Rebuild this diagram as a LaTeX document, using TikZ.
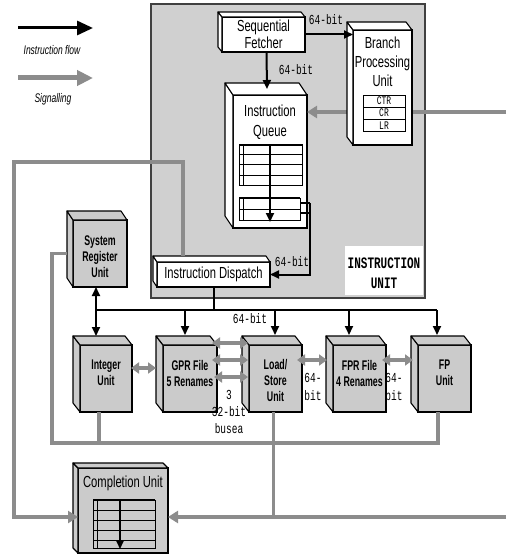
\documentclass[tikz,border=0pt]{standalone}
\usepackage{fontspec}
\setsansfont{Liberation Sans}[FakeStretch=0.8]
\setmonofont{Liberation Mono}
\newfontfamily\bigfont{Liberation Sans}[FakeStretch=0.7]
\newfontfamily\unitfont{Liberation Sans}[FakeStretch=0.63]
\newfontfamily\legfont{Liberation Sans}[FakeStretch=0.68]
\usepackage{graphicx}
\usetikzlibrary{arrows.meta,calc}
\definecolor{iubg}{HTML}{D0D0D0}
\definecolor{boxg}{HTML}{CBCBCB}
\definecolor{sig}{HTML}{8C8C8C}
\newcommand{\tallm}[1]{\scalebox{1}[1.45]{#1}}
% name, cx, cy, w, h, dx, dy, fill
\newcommand{\threed}[8]{%
  \node[face, fill=#8, minimum width=#4pt, minimum height=#5pt] (#1) at (#2,#3) {};
  \filldraw[edge, fill=#8] (#1.north west) -- ++(#6,#7) -- ($(#1.south west)+(#6,#7)$) -- (#1.south west) -- cycle;
  \filldraw[edge, fill=#8] (#1.north west) -- ++(#6,#7) -- ($(#1.north east)+(#6,#7)$) -- (#1.north east) -- cycle;
}
\begin{document}
\begin{tikzpicture}[x=1pt,y=-1pt,
  face/.style={draw=black, line width=1.1pt, inner sep=0pt, outer sep=0pt},
  edge/.style={draw=black, line width=1.1pt, line join=round},
  big/.style={font=\bigfont\fontsize{16}{18}\selectfont, align=center, inner sep=0pt},
  unitt/.style={font=\unitfont\bfseries\fontsize{14}{16}\selectfont, align=center, inner sep=0pt},
  legt/.style={font=\legfont\itshape\fontsize{12.5}{13}\selectfont, inner sep=0pt},
  mono/.style={font=\ttfamily\fontsize{9.5}{10}\selectfont, inner sep=0pt},
  reg/.style={draw=black, line width=0.8pt, minimum width=42pt, minimum height=12pt, inner sep=0pt, outer sep=0pt, font=\ttfamily\fontsize{8}{8}\selectfont},
  flow/.style={draw=black, line width=2pt, -{Triangle[length=9pt,width=8pt]}},
  blk/.style={draw=black, line width=2pt},
  sigline/.style={draw=sig, line width=3.5pt},
  sigarrow/.style={draw=sig, line width=3.5pt, -{Triangle[length=10pt,width=12pt]}},
  sigdbl/.style={draw=sig, line width=3.5pt, {Triangle[length=8pt,width=11pt]}-{Triangle[length=8pt,width=11pt]}},
  tbl/.style={draw=black, line width=1pt}
]
\useasboundingbox (0,0) rectangle (506,556);
\fill[white] (0,0) rectangle (506,556);

% legend
\coordinate (lf1) at (18,28); \coordinate (lf2) at (93,28);
\draw[line width=3pt, -{Triangle[length=16pt,width=14pt]}] (lf1) -- (lf2);
\node[legt] (lft) at (52,50) {Instruction flow};
\coordinate (ls1) at (18,78); \coordinate (ls2) at (93,78);
\draw[draw=sig, line width=5pt, -{Triangle[length=16pt,width=15pt]}] (ls1) -- (ls2);
\node[legt] (lst) at (53,99) {Signalling};

% instruction unit
\node[draw=black!75, line width=1.2pt, fill=iubg, minimum width=274pt, minimum height=294pt, inner sep=0pt, outer sep=0pt] (iu) at (288,151) {};
\node[fill=white, minimum width=78pt, minimum height=49pt, inner sep=0pt, outer sep=0pt] (iulbl) at (384,270.5) {};
\node[font=\ttfamily\bfseries\fontsize{11}{20}\selectfont, align=center, inner sep=0pt] (iut) at (384,273) {\tallm{INSTRUCTION}\\\tallm{UNIT}};

% sequential fetcher
\threed{sf}{263.5}{34.5}{83}{35}{-4}{-5}{white}
\node[big, font=\bigfont\fontsize{16}{17}\selectfont] (sft) at (sf) {Sequential\\Fetcher};

% instruction queue
\threed{iq}{270}{161.5}{74}{133}{-8}{-12}{white}
\node[big, font=\bigfont\fontsize{16}{20}\selectfont] (iqt) at (270,122) {Instruction\\Queue};
\draw[tbl] (239,145) rectangle (302,185);
\foreach \yy in {155,165,175} \draw[tbl] (239,\yy) -- (302,\yy);
\draw[tbl] (243,145) -- (243,185);
\draw[tbl, line width=1.6pt] (239,145) -- (302,145);
\draw[tbl] (239,198) rectangle (300,220);
\draw[tbl] (239,209) -- (300,209);
\draw[tbl] (243,198) -- (243,220);
\draw[tbl, line width=1.6pt] (239,198) -- (300,198);
\coordinate (qa) at (270,145); \coordinate (qb) at (270,222);
\draw[flow] (qa) -- (qb);

% signalling into queue
\coordinate (rin) at (506,112);
\draw[sigarrow] (rin) -- (iq.east |- rin);

% branch processing unit
\threed{bpu}{382.5}{87.5}{59}{115}{-6}{-8}{white}
\node[big, font=\bigfont\fontsize{16}{19}\selectfont] (bput) at (382.5,62) {Branch\\Processing\\Unit};
\node[reg] (ctr) at (384,101) {\tallm{CTR}};
\node[reg] (cr) at (384,113) {\tallm{CR}};
\node[reg] (lr) at (384,125.5) {\tallm{LR}};

% fetcher arrows
\draw[flow] (sf.east) -- (bpu.west |- sf.east);
\node[mono] (l64a) at (326,20) {\tallm{64-bit}};
\draw[flow] ($(sf.south)+(3,0)$) -- ($(iq.north)+(-3,-6)$);
\node[mono] (l64b) at (296,70) {\tallm{64-bit}};

% instruction dispatch
\threed{disp}{213.5}{274.5}{113}{25}{-4}{-6}{white}
\node[big] (dispt) at (disp) {Instruction Dispatch};
\coordinate (qo1) at (300,203); \coordinate (qo2) at (300,213);
\coordinate (qv) at (310,203);
\draw[line width=1.5pt] (qo1) -- (qv);
\draw[line width=1.5pt] (qo2) -- (qv |- qo2);
\draw[flow] (qv) |- (disp.east);
\node[mono] (l64c) at (292,262) {\tallm{64-bit}};

% system register unit
\threed{srt}{100}{253.5}{54}{67}{-6}{-9}{boxg}
\node[unitt] (srtt) at ($(srt)+(0,3)$) {System\\Register\\Unit};

% execution units
\threed{int}{106}{378.5}{52}{67}{-7}{-9}{boxg}
\threed{gpr}{190}{378.5}{54}{67}{-7}{-9}{boxg}
\threed{ls}{275.5}{378.5}{53}{67}{-7}{-9}{boxg}
\threed{fpr}{359.5}{378.5}{53}{67}{-7}{-9}{boxg}
\threed{fp}{444.5}{378.5}{53}{67}{-7}{-9}{boxg}
\node[unitt] (intt) at (106,373) {Integer\\Unit};
\node[unitt] (gprt) at (190,373) {GPR File\\5 Renames};
\node[unitt] (lst2) at (275.5,380) {Load/\\Store\\Unit};
\node[unitt] (fprt) at (359.5,373) {FPR File\\4 Renames};
\node[unitt] (fpt) at (444.5,373) {FP\\Unit};

% bus
\coordinate (bL) at (96,310); \coordinate (bR) at (437,310);
\draw[blk] (bL) -- (bR);
\draw[blk] (disp.south) -- (disp.south |- bL);
\coordinate (gA) at (185,310); \coordinate (lA) at (275,310);
\coordinate (fA) at (349,310); \coordinate (pA) at (437,310);
\draw[flow] (gA) -- ++(0,25);
\draw[flow] (lA) -- ++(0,25);
\draw[flow] (fA) -- ++(0,25);
\draw[flow] (pA) -- ++(0,25);
\draw[line width=2pt, {Triangle[length=9pt,width=8pt]}-{Triangle[length=9pt,width=8pt]}] ($(srt.south)+(-4,0)$) -- ($(int.north)+(-10,-9)$);
\node[mono] (l64d) at (250,319) {\tallm{64-bit}};

% gray double arrows between units
\draw[sigdbl] ($(int.east)+(-1,-10.5)$) -- ($(gpr.west)+(-7,-10.5)$);
\draw[sigdbl] ($(gpr.east)+(-5,-35.5)$) -- ($(ls.west)+(-1,-35.5)$);
\draw[sigdbl] ($(gpr.east)+(-5,-18.5)$) -- ($(ls.west)+(-1,-18.5)$);
\draw[sigdbl] ($(gpr.east)+(-3,-1.5)$) -- ($(ls.west)+(-1,-1.5)$);
\draw[sigdbl] ($(ls.east)+(-5,-18.5)$) -- ($(fpr.west)+(-6,-18.5)$);
\draw[sigdbl] ($(fpr.east)+(-4,-18.5)$) -- ($(fp.west)+(-5,-18.5)$);
\node[mono] (b3) at (229,395) {\tallm{3}};
\node[mono] (b32) at (229,412) {\tallm{32-bit}};
\node[mono] (bbus) at (229,429) {\tallm{busea}};
\node[mono] (m1a) at (313,378) {\tallm{64-}};
\node[mono] (m1b) at (313,396) {\tallm{bit}};
\node[mono] (m2a) at (394,378) {\tallm{64-}};
\node[mono] (m2b) at (394,396) {\tallm{bit}};

% completion unit
\threed{cu}{123}{510.5}{90}{85}{-5}{-5}{boxg}
\node[big] (cut) at (123,483) {Completion Unit};
\draw[tbl] (93,500) rectangle (155,548);
\foreach \yy in {510,520,530,540} \draw[tbl] (93,\yy) -- (155,\yy);
\draw[tbl] (97,500) -- (97,548);
\draw[tbl, line width=1.6pt] (93,500) -- (155,500);
\coordinate (ca) at (120,500); \coordinate (cb) at (120,549);
\draw[flow] (ca) -- (cb);

% gray signalling lines
\coordinate (g1) at (52,443); \coordinate (g2) at (438,443);
\draw[sigline] ($(srt.west)+(-6,0)$) -| (g1) -- (g2) -- (g2 |- fp.south);
\draw[sigline] ($(int.south)+(-7,0)$) -- ++(0,31);
\draw[sigline] ($(ls.south)+(-2,0)$) -- ++(0,105);
\coordinate (cr) at (506,517);
\draw[sigarrow] (cr) -- (cr -| cu.east);
\coordinate (d1) at (183,162); \coordinate (d2) at (14,162); \coordinate (cl) at (14,517);
\draw[sigarrow] ($(disp.north west)+(26,-6)$) -- (d1) -- (d2) -- (cl) -- (cl -| cu.west);
\end{tikzpicture}
\end{document}
